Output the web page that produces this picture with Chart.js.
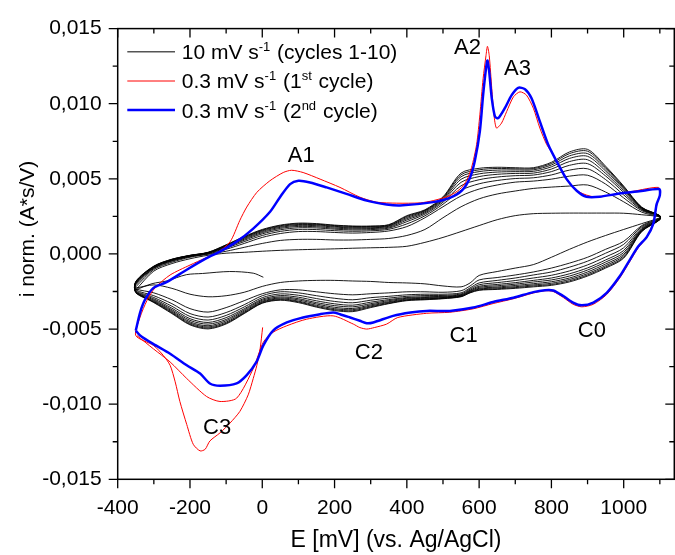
<!DOCTYPE html>
<html>
<head>
<meta charset="utf-8">
<script src="https://cdn.jsdelivr.net/npm/chart.js@4.4.1/dist/chart.umd.min.js"></script>
<style>
  html, body { margin: 0; padding: 0; background: #fff; }
  #wrap { width: 675px; height: 555px; }
</style>
</head>
<body>
<div id="wrap"><canvas id="cv" width="675" height="555"></canvas></div>
<script>
// currents in units of 1e-3 A*s/V
const SCALE = 1e-3;

// potential grids (mV) for the 10 mV/s cycles
const upE = [-350,-300,-250,-200,-150,-100,-50,0,50,100,150,200,250,300,350,400,450,500,550,600,650,700,750,800,850,900,950,1000,1050,1100];
const downE = [1100,1050,1000,950,900,850,800,750,700,650,600,575,550,500,450,400,350,300,250,200,150,100,50,0,-50,-100,-150,-200,-250,-300,-350];

// start of cycle 1 (0 mV -> -350 mV)
const tailE = [3,-25,-90,-165,-210,-265,-305,-350];
const tailI = [-1.55,-1.28,-1.17,-1.30,-1.38,-1.80,-1.98,-2.39];

// anodic sweeps, cycles 1..10
const c1Up  = [-2.39,-1.14,-0.64,-0.32,-0.09,0.05,0.11,0.18,0.24,0.28,0.31,0.34,0.38,0.41,0.44,0.51,0.77,1.10,1.49,1.89,2.28,2.55,2.68,2.71,2.72,2.72,2.72,2.71,2.61,2.48];
const c2Up  = [-2.19,-1.04,-0.55,-0.22,-0.02,0.18,0.44,0.70,0.90,0.97,0.97,0.93,0.93,0.97,1.03,1.23,1.63,2.41,3.14,3.67,3.99,4.19,4.36,4.45,4.52,4.59,4.12,3.47,2.78,2.48];
const c3Up  = [-2.06,-0.97,-0.48,-0.18,0.01,0.31,0.70,1.10,1.36,1.49,1.49,1.43,1.39,1.43,1.53,1.82,2.41,3.14,3.86,4.32,4.59,4.78,4.85,4.98,5.18,5.24,4.65,3.73,2.88,2.51];
const c4Up  = [-2.00,-0.93,-0.45,-0.16,0.04,0.39,0.82,1.23,1.50,1.63,1.62,1.55,1.51,1.54,1.64,2.00,2.54,3.31,4.24,4.67,4.89,5.02,5.07,5.26,5.58,5.67,4.95,3.93,2.94,2.52];
const c5Up  = [-1.96,-0.90,-0.42,-0.14,0.06,0.45,0.91,1.34,1.61,1.74,1.73,1.65,1.60,1.62,1.72,2.15,2.65,3.44,4.54,4.94,5.12,5.21,5.25,5.48,5.90,6.01,5.19,4.09,2.98,2.53];
const c6Up  = [-1.92,-0.87,-0.40,-0.13,0.07,0.49,0.98,1.42,1.70,1.83,1.81,1.72,1.67,1.69,1.78,2.26,2.73,3.54,4.77,5.15,5.30,5.36,5.38,5.65,6.15,6.27,5.36,4.20,3.02,2.53];
const c7Up  = [-1.89,-0.85,-0.39,-0.11,0.08,0.53,1.04,1.49,1.77,1.90,1.88,1.79,1.73,1.74,1.84,2.35,2.80,3.62,4.97,5.33,5.45,5.48,5.50,5.80,6.36,6.50,5.52,4.31,3.05,2.54];
const c8Up  = [-1.87,-0.84,-0.37,-0.10,0.09,0.56,1.09,1.55,1.83,1.96,1.94,1.84,1.78,1.79,1.88,2.43,2.86,3.69,5.14,5.48,5.58,5.59,5.60,5.92,6.53,6.68,5.65,4.39,3.07,2.54];
const c9Up  = [-1.85,-0.82,-0.36,-0.10,0.10,0.59,1.13,1.59,1.88,2.01,1.98,1.89,1.83,1.83,1.92,2.50,2.90,3.75,5.27,5.60,5.69,5.67,5.68,6.02,6.68,6.84,5.76,4.46,3.09,2.55];
const c10Up = [-1.83,-0.81,-0.35,-0.09,0.11,0.61,1.16,1.63,1.92,2.05,2.02,1.92,1.86,1.86,1.95,2.55,2.94,3.80,5.38,5.70,5.77,5.74,5.74,6.10,6.79,6.96,5.84,4.52,3.11,2.55];

// cathodic sweeps, cycles 1..10
const c1Down  = [2.41,2.02,1.63,1.23,0.80,0.31,-0.22,-0.71,-0.94,-1.17,-1.43,-1.93,-2.19,-2.13,-1.99,-1.93,-1.90,-1.83,-1.80,-1.76,-1.76,-1.80,-1.90,-2.16,-2.55,-2.78,-2.85,-2.68,-2.29,-2.06,-2.26];
const c2Down  = [2.38,1.89,0.84,0.31,-0.22,-0.61,-0.94,-1.20,-1.40,-1.57,-1.73,-2.13,-2.45,-2.55,-2.52,-2.52,-2.59,-2.65,-2.72,-2.65,-2.52,-2.39,-2.39,-2.65,-3.11,-3.57,-3.87,-3.64,-3.05,-2.59,-2.32];
const c3Down  = [2.35,1.82,0.64,0.05,-0.48,-0.88,-1.20,-1.40,-1.60,-1.76,-1.93,-2.26,-2.59,-2.68,-2.68,-2.72,-2.82,-2.91,-3.05,-2.95,-2.78,-2.59,-2.52,-2.78,-3.38,-3.90,-4.20,-3.97,-3.31,-2.78,-2.39];
const c4Down  = [2.33,1.74,0.41,-0.20,-0.73,-1.13,-1.42,-1.60,-1.77,-1.91,-2.05,-2.34,-2.66,-2.76,-2.77,-2.82,-2.94,-3.08,-3.25,-3.16,-2.97,-2.75,-2.66,-2.91,-3.53,-4.09,-4.40,-4.16,-3.48,-2.90,-2.44];
const c5Down  = [2.32,1.67,0.23,-0.40,-0.93,-1.32,-1.60,-1.76,-1.91,-2.03,-2.15,-2.41,-2.71,-2.82,-2.85,-2.90,-3.04,-3.21,-3.41,-3.32,-3.12,-2.88,-2.77,-3.01,-3.65,-4.24,-4.56,-4.31,-3.61,-2.99,-2.48];
const c6Down  = [2.31,1.62,0.09,-0.54,-1.07,-1.47,-1.73,-1.87,-2.01,-2.12,-2.22,-2.46,-2.75,-2.86,-2.90,-2.95,-3.11,-3.31,-3.52,-3.44,-3.24,-2.98,-2.86,-3.08,-3.73,-4.36,-4.67,-4.42,-3.71,-3.06,-2.51];
const c7Down  = [2.30,1.58,-0.03,-0.67,-1.20,-1.60,-1.85,-1.98,-2.10,-2.20,-2.29,-2.50,-2.78,-2.90,-2.95,-3.00,-3.18,-3.39,-3.63,-3.55,-3.33,-3.06,-2.93,-3.15,-3.81,-4.45,-4.78,-4.52,-3.79,-3.12,-2.54];
const c8Down  = [2.29,1.54,-0.13,-0.78,-1.31,-1.70,-1.95,-2.06,-2.18,-2.26,-2.34,-2.54,-2.81,-2.93,-2.99,-3.05,-3.23,-3.46,-3.71,-3.64,-3.42,-3.14,-2.99,-3.20,-3.88,-4.54,-4.86,-4.60,-3.86,-3.17,-2.56];
const c9Down  = [2.28,1.51,-0.22,-0.87,-1.40,-1.79,-2.03,-2.13,-2.24,-2.32,-2.39,-2.57,-2.83,-2.96,-3.02,-3.08,-3.28,-3.52,-3.78,-3.71,-3.49,-3.19,-3.04,-3.25,-3.93,-4.61,-4.93,-4.67,-3.92,-3.21,-2.58];
const c10Down = [2.28,1.49,-0.28,-0.94,-1.47,-1.86,-2.09,-2.19,-2.29,-2.36,-2.42,-2.59,-2.85,-2.98,-3.05,-3.11,-3.31,-3.57,-3.84,-3.77,-3.54,-3.24,-3.08,-3.28,-3.97,-4.66,-4.99,-4.72,-3.97,-3.24,-2.59];

// 0.3 mV/s, 1st cycle (starts at 0 mV, goes negative first)
const redE = [1,-6,-15,-25,-39,-62,-89,-117,-145,-158,-172,-191,-209,-228,-241,-255,-274,-301,-350,
  -338,-319,-297,-255,-200,-158,-126,-89,-62,-43,-15,21,58,81,113,160,215,270,316,372,437,473,519,547,565,579,593,602,611,619,623,628,635,641,648,662,676,695,713,731,750,768,787,805,824,851,879,916,971,1026,1096,
  1100,1091,1082,1064,1040,1017,989,953,916,884,860,833,805,782,750,695,639,584,519,455,375,344,310,289,270,252,196,123,68,30,3,-25,-71,-117,-154,-209,-255,-301,-347];
const redI = [-4.89,-6.32,-7.41,-8.29,-9.38,-10.48,-11.25,-11.91,-12.45,-13.0,-13.11,-12.67,-11.35,-9.82,-8.51,-7.41,-6.75,-6.09,-5.43,
  -4.2,-3.1,-2.26,-1.4,-0.74,-0.28,0.05,0.81,2.24,3.12,4.10,4.87,5.42,5.57,5.42,4.98,4.43,3.78,3.45,3.38,3.40,3.55,3.88,4.32,4.87,5.75,7.28,9.26,11.67,13.2,13.82,13.2,11.01,9.26,8.38,8.71,9.47,10.46,10.79,10.57,9.70,8.38,7.28,6.63,5.75,4.65,4.10,3.81,3.95,4.17,4.43,
  4.0,3.2,2.0,1.1,0.4,-0.5,-1.6,-2.7,-3.35,-3.52,-3.35,-2.9,-2.5,-2.45,-2.6,-2.98,-3.3,-3.65,-3.88,-3.95,-4.23,-4.67,-4.9,-5.0,-4.9,-4.67,-4.12,-4.34,-4.78,-5.21,-5.87,-7.63,-9.6,-9.82,-9.49,-8.29,-7.19,-6.32,-5.43];

// 0.3 mV/s, 2nd cycle
const blueE = [-350,-338,-324,-301,-265,-209,-154,-117,-71,-25,21,49,77,100,132,178,233,289,344,381,
  473,519,552,575,588,602,611,619,623,628,635,644,653,671,690,708,727,745,768,791,814,842,870,897,934,980,1043,1098,
  1100,1091,1082,1064,1040,1017,989,953,916,884,860,833,805,782,750,695,639,584,519,455,410,362,307,289,270,243,215,196,160,113,68,30,3,-16,-43,-71,-117,-145,-172,-209,-255,-302,-338,-350];
const blueI = [-5.10,-3.90,-3.03,-2.26,-1.88,-1.05,-0.28,0.16,0.82,1.69,2.79,3.78,4.65,4.87,4.76,4.43,4.00,3.55,3.29,3.22,
  3.45,3.73,4.21,5.09,6.18,8.16,10.57,12.33,12.88,12.10,10.36,9.14,9.04,9.70,10.57,11.06,10.97,10.36,8.82,7.28,6.18,4.98,4.21,3.81,3.81,3.99,4.17,4.32,
  3.9,3.30,2.02,1.14,0.49,-0.39,-1.49,-2.59,-3.24,-3.42,-3.24,-2.80,-2.43,-2.41,-2.54,-2.91,-3.20,-3.57,-3.79,-3.79,-3.90,-4.12,-4.56,-4.61,-4.45,-4.23,-4.01,-3.90,-4.01,-4.23,-4.56,-5.10,-6.09,-7.19,-8.07,-8.62,-8.77,-8.62,-7.96,-7.41,-6.64,-5.99,-5.43,-5.10];

// axis ticks
const xTickValues = [-400,-200,0,200,400,600,800,1000];
const xMinorValues = [-300,-100,100,300,500,700,900,1100];
const yTickValues = [-0.015,-0.010,-0.005,0,0.005,0.010,0.015];
const yMinorValues = [-0.0125,-0.0075,-0.0025,0.0025,0.0075,0.0125];

// peak labels (text, E in mV, i in 1e-3 A*s/V at the text baseline)
const peakNames = ['A1','A2','A3','C0','C1','C2','C3'];
const peakE = [108,568,706,912,557,295,-125];
const peakI = [6.10,13.34,11.89,-5.55,-5.88,-6.99,-12.0];

const FONT = "'Liberation Sans', Arial, sans-serif";

function toPoints(es, is) {
  return es.map((e, k) => ({x: e, y: is[k] * SCALE}));
}

const upCycles = [c1Up,c2Up,c3Up,c4Up,c5Up,c6Up,c7Up,c8Up,c9Up,c10Up];
const downCycles = [c1Down,c2Down,c3Down,c4Down,c5Down,c6Down,c7Down,c8Down,c9Down,c10Down];
let blackPts = toPoints(tailE, tailI);
for (let k = 0; k < 10; k++) {
  blackPts = blackPts.concat(toPoints(upE, upCycles[k]), toPoints(downE, downCycles[k]));
}

const decor = {
  id: 'decor',
  afterDraw(chart) {
    const {ctx, chartArea: a, scales: {x, y}} = chart;
    ctx.save();
    // frame
    ctx.strokeStyle = '#000';
    ctx.lineWidth = 1.5;
    ctx.strokeRect(a.left, a.top, a.right - a.left, a.bottom - a.top);
    // ticks: outward on bottom/left, inward on top/right
    ctx.lineWidth = 1.3;
    ctx.beginPath();
    const xt = (v, len) => {
      const px = x.getPixelForValue(v);
      ctx.moveTo(px, a.bottom); ctx.lineTo(px, a.bottom + len);
      ctx.moveTo(px, a.top); ctx.lineTo(px, a.top + len);
    };
    const yt = (v, len) => {
      const py = y.getPixelForValue(v);
      ctx.moveTo(a.left - len, py); ctx.lineTo(a.left, py);
      ctx.moveTo(a.right - len, py); ctx.lineTo(a.right, py);
    };
    xTickValues.forEach(v => xt(v, 9));
    xMinorValues.forEach(v => xt(v, 5));
    yTickValues.forEach(v => yt(v, 9));
    yMinorValues.forEach(v => yt(v, 5));
    ctx.stroke();

    // y axis title
    ctx.fillStyle = '#000';
    ctx.save();
    ctx.translate(34.3, 229);
    ctx.rotate(-Math.PI / 2);
    ctx.font = '21px ' + FONT;
    ctx.textAlign = 'center';
    ctx.textBaseline = 'alphabetic';
    ctx.fillText('i norm. (A*s/V)', 0, 0);
    ctx.restore();

    // peak labels
    ctx.font = '22px ' + FONT;
    ctx.textAlign = 'center';
    ctx.textBaseline = 'alphabetic';
    peakNames.forEach((t, k) => {
      ctx.fillText(t, x.getPixelForValue(peakE[k]), y.getPixelForValue(peakI[k] * SCALE));
    });

    // legend with superscripts
    const rows = [
      {color: '#555', width: 1.5, y: 51.7, base: 59.3, parts: [['10 mV s'], ['-1', 1], [' (cycles 1-10)']]},
      {color: '#ff0000', width: 1, y: 81, base: 88.3, parts: [['0.3 mV s'], ['-1', 1], [' (1'], ['st', 1], [' cycle)']]},
      {color: '#0000ff', width: 2.5, y: 110, base: 117.7, parts: [['0.3 mV s'], ['-1', 1], [' (2'], ['nd', 1], [' cycle)']]}
    ];
    ctx.textAlign = 'left';
    rows.forEach(r => {
      ctx.strokeStyle = r.color;
      ctx.lineWidth = r.width;
      ctx.beginPath();
      ctx.moveTo(127.3, r.y); ctx.lineTo(175, r.y);
      ctx.stroke();
      let tx = 181.7;
      r.parts.forEach(p => {
        const sup = p[1] === 1;
        ctx.font = (sup ? '13px ' : '21px ') + FONT;
        ctx.fillText(p[0], tx, sup ? r.base - 8 : r.base);
        tx += ctx.measureText(p[0]).width + (sup ? 1 : 0);
      });
    });
    ctx.restore();
  }
};

new Chart(document.getElementById('cv'), {
  type: 'scatter',
  data: {
    datasets: [
      {label: '0.3 mV s-1 (2nd cycle)', data: toPoints(blueE, blueI), showLine: true, borderColor: '#0000ff', borderWidth: 2.5, pointRadius: 0, tension: 0.25},
      {label: '0.3 mV s-1 (1st cycle)', data: toPoints(redE, redI), showLine: true, borderColor: '#ff0000', borderWidth: 1, pointRadius: 0, tension: 0.25},
      {label: '10 mV s-1 (cycles 1-10)', data: blackPts, showLine: true, borderColor: '#000000', borderWidth: 0.9, pointRadius: 0, tension: 0.3}
    ]
  },
  options: {
    responsive: false,
    animation: false,
    events: [],
    layout: {padding: {top: 22.7, right: 0.7, left: 0, bottom: 0}},
    plugins: {legend: {display: false}, tooltip: {enabled: false}},
    scales: {
      x: {
        type: 'linear', min: -400, max: 1140,
        grid: {display: false, drawTicks: false, tickLength: 0},
        border: {display: false},
        afterBuildTicks: s => { s.ticks = xTickValues.map(v => ({value: v})); },
        afterFit: s => { s.height = 75.7; },
        ticks: {color: '#000', font: {family: FONT, size: 21}, padding: 16, maxRotation: 0, autoSkip: false,
          callback: v => String(v)},
        title: {display: true, text: 'E [mV] (vs. Ag/AgCl)', color: '#000', font: {family: FONT, size: 23}, padding: {top: 0, bottom: 1}}
      },
      y: {
        type: 'linear', min: -0.015, max: 0.015,
        grid: {display: false, drawTicks: false, tickLength: 0},
        border: {display: false},
        afterBuildTicks: s => { s.ticks = yTickValues.map(v => ({value: v})); },
        afterFit: s => { s.width = 117.7; },
        ticks: {color: '#000', font: {family: FONT, size: 21}, padding: 16, autoSkip: false,
          callback: v => v.toFixed(3).replace('.', ',')}
      }
    }
  },
  plugins: [decor]
});
</script>
</body>
</html>
